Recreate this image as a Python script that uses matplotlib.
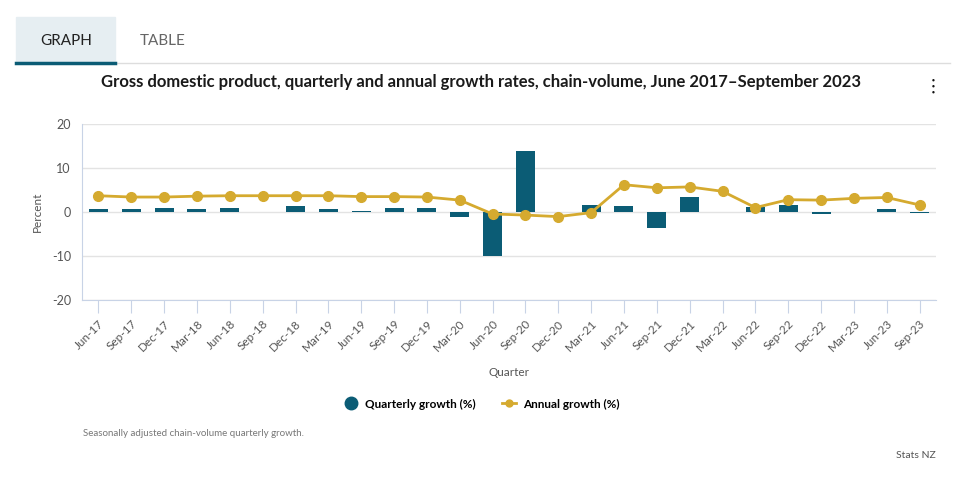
import numpy as np
import matplotlib.pyplot as plt
from matplotlib.patches import Rectangle
from matplotlib.lines import Line2D

quarters = ['Jun-17', 'Sep-17', 'Dec-17', 'Mar-18', 'Jun-18', 'Sep-18', 'Dec-18', 'Mar-19',
            'Jun-19', 'Sep-19', 'Dec-19', 'Mar-20', 'Jun-20', 'Sep-20', 'Dec-20', 'Mar-21',
            'Jun-21', 'Sep-21', 'Dec-21', 'Mar-22', 'Jun-22', 'Sep-22', 'Dec-22', 'Mar-23',
            'Jun-23', 'Sep-23']
quarterly = [0.75, 0.75, 1.0, 0.75, 1.0, 0.1, 1.4, 0.75,
             0.3, 0.8, 0.8, -1.2, -9.9, 13.9, 0.0, 1.7,
             1.3, -3.7, 3.3, 0.0, 1.05, 1.7, -0.5, 0.0,
             0.6, -0.3]
annual = [3.7, 3.4, 3.4, 3.6, 3.7, 3.7, 3.7, 3.7,
          3.5, 3.5, 3.4, 2.7, -0.45, -0.7, -1.05, -0.15,
          6.2, 5.5, 5.7, 4.7, 1.0, 2.8, 2.7, 3.1,
          3.3, 1.6]
yticks = [-20, -10, 0, 10, 20]

bar_col = '#0b5c75'
line_col = '#d5aa2f'
axis_col = '#c8d3e6'
text_col = '#555555'

plt.rcParams['font.family'] = ['Lato', 'DejaVu Sans']

fig = plt.figure(figsize=(9.67, 4.78), dpi=100)
ax = fig.add_axes([82 / 967, 1 - 300 / 478, (936 - 82) / 967, (300 - 124) / 478])

x = np.arange(len(quarters))
ax.bar(x, quarterly, width=0.58, color=bar_col, zorder=2)
ax.plot(x, annual, color=line_col, lw=2, marker='o', markersize=7, zorder=3)

ax.set_xlim(-0.5, len(quarters) - 0.5)
ax.set_ylim(-20, 20)
ax.set_yticks(yticks)
ax.set_yticklabels([str(v) for v in yticks], fontsize=9, color=text_col)
ax.set_xticks(x)
ax.set_xticklabels(quarters, rotation=45, ha='right', rotation_mode='anchor',
                   fontsize=8.5, color=text_col)
ax.tick_params(axis='x', length=9, color=axis_col, pad=4)
ax.tick_params(axis='y', length=0, pad=8)
ax.grid(axis='y', color='#e3e3e3', lw=1, zorder=0)
for s in ['top', 'right']:
    ax.spines[s].set_visible(False)
ax.spines['left'].set_color(axis_col)
ax.spines['bottom'].set_color(axis_col)

fig.text(37 / 967, 1 - 212 / 478, 'Percent', rotation=90, ha='center', va='center',
         fontsize=8.5, color=text_col)
fig.text(509 / 967, 1 - 372 / 478, 'Quarter', ha='center', va='center',
         fontsize=8.5, color=text_col)

# title
fig.text(481 / 967, 1 - 82 / 478, 'Gross domestic product, quarterly and annual growth rates, chain-volume, June 2017\u2013September 2023',
         ha='center', va='center', fontsize=12, fontweight='bold', color='#1a1a1a')

# tabs
fig.patches.append(Rectangle((16 / 967, 1 - 62 / 478), 99 / 967, 45 / 478,
                             transform=fig.transFigure, color='#e6eef2', zorder=0))
fig.add_artist(Line2D([16 / 967, 950 / 967], [1 - 63 / 478, 1 - 63 / 478], color='#dddddd', lw=1))
fig.add_artist(Line2D([16 / 967, 115 / 967], [1 - 63 / 478, 1 - 63 / 478], color=bar_col, lw=2.5))
fig.text(66 / 967, 1 - 41 / 478, 'GRAPH', ha='center', va='center', fontsize=11, color='#222222')
fig.text(163 / 967, 1 - 41 / 478, 'TABLE', ha='center', va='center', fontsize=11, color='#666666')

# menu dots
for dy in [80, 86, 92]:
    fig.text(933 / 967, 1 - dy / 478, '\u25cf', ha='center', va='center', fontsize=3.5, color='#111111')

# legend
handles = [Line2D([], [], ls='none', marker='o', markersize=9, color=bar_col),
           Line2D([], [], color=line_col, lw=2, marker='o', markersize=5)]
fig.legend(handles, ['Quarterly growth (%)', 'Annual growth (%)'], loc='center',
           bbox_to_anchor=(482 / 967, 1 - 404 / 478), ncol=2, frameon=False,
           prop={'size': 8.5, 'weight': 'bold'}, handlelength=1.2, columnspacing=2.2,
           handletextpad=0.6)

fig.text(83 / 967, 1 - 434 / 478, 'Seasonally adjusted chain-volume quarterly growth.',
         ha='left', va='center', fontsize=7, color='#777777')
fig.text(936 / 967, 1 - 456 / 478, 'Stats NZ', ha='right', va='center', fontsize=7.5, color='#555555')

fig.savefig('out.png', dpi=100)
